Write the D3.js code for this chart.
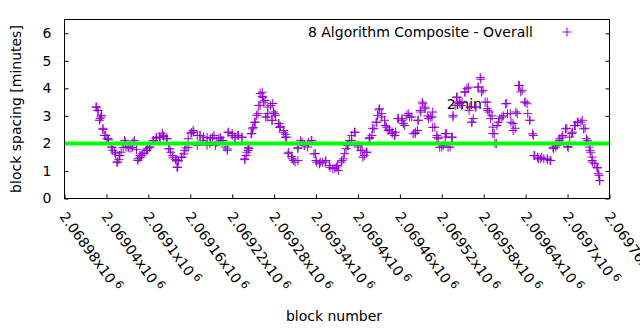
<!DOCTYPE html>
<html><head><meta charset="utf-8">
<script src="https://cdn.jsdelivr.net/npm/d3@7/dist/d3.min.js"></script>
<style>html,body{margin:0;padding:0;background:#fff}svg{display:block}text{font-family:"DejaVu Sans",sans-serif;fill:#000}</style>
</head><body>
<svg id="chart" width="640" height="330"></svg>
<script>
// ---------- data ----------
const seriesName = "8 Algorithm Composite - Overall";
const yLabel = "block spacing [minutes]";
const xLabel = "block number";
const xDomain = [2068980, 2069760];
const yDomain = [0, 6.5];
const xTicks = [2068980,2069040,2069100,2069160,2069220,2069280,2069340,2069400,2069460,2069520,2069580,2069640,2069700,2069760];
const xTickLabels = ["2.06898","2.06904","2.0691","2.06916","2.06922","2.06928","2.06934","2.0694","2.06946","2.06952","2.06958","2.06964","2.0697","2.06976"];
const xTickExponent = "6";
const yTicks = [0,1,2,3,4,5,6];
const targetSpacing = 2;
const noteText = "2min";
const notePos = [2069527, 3.45];
// [block, spacing in minutes]
const samples = [
[2069025,3.32],[2069028,3.2],[2069030,2.84],[2069032,2.96],[2069033,3.02],[2069035,2.5],[2069037,2.29],[2069041,2.17],[2069043,2.13],[2069047,1.87],[2069049,1.75],[2069053,1.62],[2069056,1.32],[2069058,1.41],[2069059,1.56],[2069061,1.68],[2069066,2.11],[2069068,1.87],[2069072,1.84],[2069075,1.83],[2069080,2.11],[2069083,1.77],[2069085,1.38],[2069088,1.48],[2069090,1.56],[2069094,1.65],[2069097,1.75],[2069099,1.81],[2069102,1.87],[2069107,2.11],[2069111,2.19],[2069116,2.23],[2069120,2.37],[2069122,2.25],[2069126,2.17],[2069129,1.81],[2069132,1.68],[2069135,1.48],[2069139,1.41],[2069141,1.14],[2069143,1.36],[2069147,1.5],[2069151,1.62],[2069154,1.84],[2069157,2.17],[2069161,2.37],
[2069165,2.41],[2069170,1.93],[2069174,2.29],[2069179,2.23],[2069184,1.93],[2069189,2.17],[2069194,2.29],[2069196,1.93],[2069201,2.17],[2069205,2.11],[2069210,1.87],[2069213,1.75],[2069215,2.41],[2069220,2.29],[2069224,2.23],[2069229,2.29],[2069234,2.23],[2069238,1.41],[2069240,1.56],[2069243,1.75],[2069244,1.81],[2069247,2.35],[2069249,2.53],[2069252,2.77],[2069255,3.02],[2069258,3.38],[2069260,3.81],[2069263,3.71],[2069265,3.5],[2069268,2.96],[2069271,3.08],[2069275,3.38],[2069277,2.84],[2069279,3.14],[2069282,3.02],[2069287,2.72],[2069289,2.62],[2069294,2.47],[2069296,2.33],[2069298,2.23],[2069301,1.68],[2069305,1.53],[2069308,1.38],
[2069314,1.81],[2069314,1.38],[2069318,2.11],[2069323,1.93],[2069328,1.87],[2069333,2.11],[2069337,1.62],[2069340,1.38],[2069345,1.26],[2069349,1.32],[2069354,1.38],[2069359,1.2],[2069364,1.08],[2069369,1.14],[2069372,1.02],[2069376,1.32],[2069379,1.44],[2069383,1.81],[2069385,1.93],[2069388,2.11],[2069391,2.29],[2069395,2.41],[2069400,1.87],[2069404,1.75],[2069409,1.56],[2069412,1.68],[2069416,2.17],[2069420,2.29],[2069423,2.53],[2069426,2.77],[2069428,3.02],[2069431,3.26],[2069434,3.08],[2069438,2.84],[2069441,2.59],[2069445,2.5],[2069449,2.41],[2069452,2.29],[2069454,2.41],[2069458,2.9],
[2069463,2.9],[2069465,2.72],[2069470,3.02],[2069474,2.96],[2069479,2.35],[2069482,2.41],[2069486,2.84],[2069490,3.14],[2069493,3.44],[2069496,3.26],[2069501,2.9],[2069504,2.96],[2069507,3.14],[2069510,2.59],[2069513,2.29],[2069515,2.17],[2069520,1.87],[2069525,2.23],[2069527,2.35],[2069532,1.87],[2069534,2.23],[2069536,3.02],[2069541,3.68],[2069545,3.5],[2069548,3.38],[2069553,3.87],[2069556,3.99],[2069559,3.2],[2069563,2.77],[2069565,2.9],[2069569,3.32],[2069572,4.05],[2069575,4.39],[2069577,3.87],[2069582,3.5],[2069585,3.26],[2069588,3.14],[2069590,2.9],[2069593,2.59],[2069595,2.35],[2069598,1.99],[2069601,2.77],[2069606,2.96],
[2069611,3.44],[2069614,3.08],[2069619,2.77],[2069622,2.47],[2069626,3.14],[2069630,4.11],[2069633,3.87],[2069639,3.5],[2069642,3.44],[2069646,2.84],[2069650,2.35],[2069652,1.56],[2069657,1.5],[2069661,1.44],[2069666,1.44],[2069671,1.41],[2069676,1.38],[2069680,1.81],[2069683,1.87],[2069688,2.11],[2069692,2.23],[2069697,2.53],[2069700,1.89],[2069703,2.23],[2069707,2.41],[2069710,2.65],[2069714,2.77],[2069719,2.77],[2069723,2.53],[2069727,2.17],[2069731,1.87],[2069733,1.68],[2069735,1.38],[2069739,1.26],[2069743,1.11],[2069745,0.84],[2069746,0.65],
[2069026,3.32],[2069028,3.2],[2069031,2.9],[2069035,2.55],[2069039,2.29],[2069042,2.17],[2069048,1.86],[2069052,1.68],[2069055,1.32],[2069059,1.56],[2069064,1.86],[2069067,2.04],[2069071,1.86],[2069077,1.86],[2069078,2.04],[2069085,1.44],[2069088,1.56],[2069092,1.63],[2069098,1.75],[2069102,1.86],[2069107,2.1],[2069112,2.22],[2069117,2.22],[2069121,2.29],[2069127,2.17],[2069131,1.8],[2069135,1.56],[2069141,1.38],[2069142,1.13],[2069148,1.5],[2069152,1.75],[2069157,1.86],[2069162,2.4],[2069164,2.47],[2069170,2.29],[2069174,2.29],[2069178,2.1],[2069184,2.22],[2069188,2.0],[2069192,2.22],[2069198,2.04],[2069203,2.22],[2069207,2.1],[2069213,1.8],[2069214,2.4],[2069220,2.36],[2069224,2.22],[2069228,2.29],[2069234,2.22],[2069238,1.44],[2069241,1.68],[2069243,1.86],[2069248,2.36],[2069250,2.58],[2069253,2.77],[2069257,3.08],[2069260,3.38],[2069263,3.86],[2069264,3.68],[2069267,3.56],[2069270,2.96],[2069271,3.32],[2069277,2.84],[2069278,3.45],[2069281,3.08],[2069286,2.72],[2069288,2.58],[2069293,2.4],[2069296,2.22],[2069300,1.63],[2069306,1.44],[2069310,1.32],[2069314,1.86],[2069320,2.04],[2069324,1.93],[2069329,2.04],[2069334,2.1],[2069339,1.63],[2069341,1.32],
[2069346,1.32],[2069353,1.32],[2069360,1.13],[2069367,1.09],[2069371,1.2],[2069377,1.38],[2069381,1.63],[2069386,1.93],[2069391,2.1],[2069396,2.4],[2069400,1.93],[2069406,1.75],[2069407,1.5],[2069413,1.68],[2069417,2.22],[2069421,2.55],[2069427,2.77],[2069430,3.22],[2069434,2.96],[2069439,2.65],[2069443,2.47],[2069449,2.36],[2069453,2.29],[2069457,2.9],[2069463,2.84],[2069467,2.65],[2069472,3.08],[2069477,2.96],[2069482,2.36],[2069485,2.47],[2069486,2.84],[2069489,3.2],[2069492,3.5],[2069496,3.32],[2069500,3.0],[2069506,2.96],[2069507,2.58],[2069513,2.22],[2069517,1.86],[2069522,1.93],[2069525,2.36],[2069529,1.86],[2069535,2.22],[2069536,2.96],[2069539,3.38],[2069542,3.68],[2069546,3.45],[2069549,3.5],[2069553,3.86],[2069558,4.04],[2069560,3.32],[2069563,2.77],[2069568,3.32],[2069572,4.04],[2069576,4.33],[2069579,3.93],[2069585,3.5],[2069586,3.2],[2069592,3.0],[2069593,2.36],[2069596,2.0],[2069599,2.65],[2069603,2.9],[2069608,3.0],[2069613,3.45],[2069618,3.08],[2069622,2.72],[2069625,2.55],[2069628,3.08],[2069631,4.1],[2069635,3.93],[2069639,3.5],[2069643,3.08],[2069646,2.84],[2069651,2.29],[2069653,1.56],[2069658,1.44],[2069663,1.5],[2069671,1.44],[2069675,1.38],[2069679,1.86],[2069685,1.93],[2069689,2.17],[2069693,2.29],[2069699,2.55],[2069701,1.86],[2069706,2.36],[2069711,2.65],[2069715,2.77],[2069721,2.84],[2069725,2.55],[2069729,2.1],[2069732,1.75],[2069735,1.5],[2069736,1.32],[2069742,1.13],[2069744,0.9],[2069746,0.65]
];

// ---------- chart ----------
const W = 640, H = 330;
const plot = {left: 64.5, right: 609.5, top: 19.5, bottom: 198.5};
const purple = "#9400d3", green = "#00ff00";
const svg = d3.select("#chart");
svg.append("rect").attr("width", W).attr("height", H).attr("fill", "#fff");

const x = d3.scaleLinear().domain(xDomain).range([plot.left, plot.right]);
const y = d3.scaleLinear().domain(yDomain).range([plot.bottom, plot.top]);

// axes (inward ticks)
const xAxis = svg.append("g").attr("transform", `translate(0,${plot.bottom})`)
  .call(d3.axisBottom(x).tickValues(xTicks).tickSize(-4).tickFormat((d,i) => xTickLabels[i]));
xAxis.select(".domain").remove();
xAxis.selectAll("line").attr("stroke", "#000");
xAxis.selectAll("text").each(function(d, i) {
  const t = d3.select(this);
  t.text(null).attr("y", 0).attr("dy", null).attr("x", 0)
   .attr("text-anchor", "start").attr("fill", "#000")
   .style("font-size", "14px").style("font-family", '"DejaVu Sans", sans-serif')
   .attr("transform", "translate(-6,18) rotate(54)");
  t.append("tspan").text(xTickLabels[i] + "x10");
  t.append("tspan").attr("dx", 3).attr("dy", -5).style("font-size", "11px").text(xTickExponent);
});

const yAxis = svg.append("g").attr("transform", `translate(${plot.left},0)`)
  .call(d3.axisLeft(y).tickValues(yTicks).tickSize(-4).tickPadding(13).tickFormat(d3.format("d")));
yAxis.select(".domain").remove();
yAxis.selectAll("line").attr("stroke", "#000");
yAxis.selectAll("text").attr("fill", "#000").style("font-size", "14px").style("font-family", '"DejaVu Sans", sans-serif');

const yAxisR = svg.append("g").attr("transform", `translate(${plot.right},0)`)
  .call(d3.axisRight(y).tickValues(yTicks).tickSize(-4).tickFormat(""));
yAxisR.select(".domain").remove();
yAxisR.selectAll("line").attr("stroke", "#000");

// note label (behind points)
svg.append("text").attr("x", x(notePos[0])).attr("y", y(notePos[1])).attr("dy", "0.36em")
  .style("font-size", "14px").text(noteText);

// points
const cross = "M-4.5,0H4.5M0,-4.5V4.5";
svg.append("g").selectAll("path").data(samples).join("path")
  .attr("d", cross)
  .attr("transform", d => `translate(${x(d[0])},${y(d[1])})`)
  .attr("stroke", purple).attr("stroke-width", 1).attr("fill", "none");

// target line
svg.append("line").attr("x1", plot.left).attr("x2", plot.right)
  .attr("y1", y(targetSpacing)).attr("y2", y(targetSpacing))
  .attr("stroke", green).attr("stroke-width", 4);

// frame
svg.append("rect").attr("x", plot.left).attr("y", plot.top)
  .attr("width", plot.right - plot.left).attr("height", plot.bottom - plot.top)
  .attr("fill", "none").attr("stroke", "#000").attr("stroke-width", 1);

// legend
svg.append("text").attr("x", 533).attr("y", 32).attr("dy", "0.36em")
  .attr("text-anchor", "end").style("font-size", "14px").text(seriesName);
svg.append("path").attr("d", cross).attr("transform", "translate(567,32)")
  .attr("stroke", purple).attr("stroke-width", 1).attr("fill", "none");

// axis titles
svg.append("text").attr("transform", `translate(21,${(plot.top + plot.bottom) / 2}) rotate(-90)`)
  .attr("text-anchor", "middle").style("font-size", "14px").text(yLabel);
svg.append("text").attr("x", (plot.left + plot.right) / 2 - 3).attr("y", 321)
  .attr("text-anchor", "middle").style("font-size", "14px").text(xLabel);
</script>
</body></html>
